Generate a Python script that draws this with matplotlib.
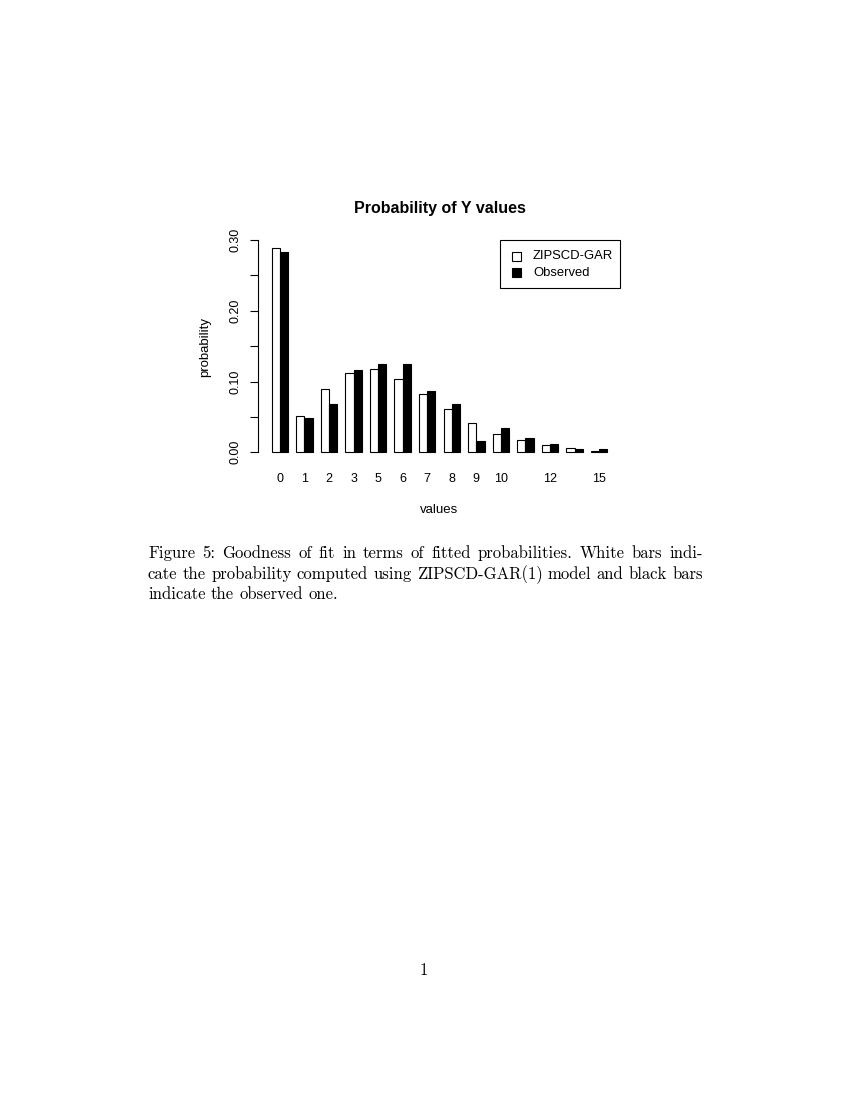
import matplotlib
matplotlib.use("Agg")
import matplotlib.pyplot as plt
import numpy as np
from matplotlib.patches import Rectangle

# ---------------- data ----------------
categories = ["0", "1", "2", "3", "5", "6", "7", "8", "9", "10", "11", "12", "13", "15"]
tick_labels = ["0", "1", "2", "3", "5", "6", "7", "8", "9", "10", "", "12", "", "15"]
zipscd_gar = [0.2885, 0.0514, 0.0892, 0.1118, 0.1175, 0.1038, 0.0825,
              0.0608, 0.0410, 0.0259, 0.0170, 0.0104, 0.0061, 0.0014]
observed = [0.2837, 0.0486, 0.0679, 0.1160, 0.1250, 0.1250, 0.0863,
            0.0679, 0.0156, 0.0349, 0.0203, 0.0118, 0.0047, 0.0047]
series_names = ["ZIPSCD-GAR", "Observed"]
y_ticks = [0.00, 0.05, 0.10, 0.15, 0.20, 0.25, 0.30]
title = "Probability of Y values"
x_label = "values"
y_label = "probability"
caption_lines = [
    "Figure 5: Goodness of fit in terms of fitted probabilities. White bars indi-",
    "cate the probability computed using ZIPSCD-GAR(1) model and black bars",
    "indicate the observed one.",
]
page_number = "1"

# ---------------- figure ----------------
plt.rcParams["font.family"] = ["Liberation Sans", "DejaVu Sans"]
W, H = 850, 1100
fig = plt.figure(figsize=(8.5, 11), dpi=100)


def fx(px):
    return px / W


def fy(py):
    return 1 - py / H


left, right, top, bottom = 258.3, 620.7, 240.0, 462.5
ax = fig.add_axes([fx(left), fy(bottom), (right - left) / W, (bottom - top) / H])

idx = np.arange(len(categories))
ax.bar(3 * idx + 1.5, zipscd_gar, width=1, color="white", edgecolor="black", linewidth=0.8)
ax.bar(3 * idx + 2.5, observed, width=1, color="black", edgecolor="black", linewidth=0.8)

ax.set_xlim(-0.64, 43.64)
ax.set_ylim(-0.0145, 0.3002)

for s in ["top", "right", "bottom"]:
    ax.spines[s].set_visible(False)
ax.spines["left"].set_bounds(0, 0.30)
ax.spines["left"].set_linewidth(0.8)

ax.set_yticks(y_ticks)
ax.set_yticklabels([f"{v:.2f}" if i % 2 == 0 else "" for i, v in enumerate(y_ticks)])
ax.tick_params(axis="y", length=6, width=0.8, pad=6, labelsize=9, labelrotation=90)
for lbl in ax.get_yticklabels():
    lbl.set_va("center")

ax.set_xticks(3 * idx + 2)
ax.set_xticklabels(tick_labels)
ax.tick_params(axis="x", length=0, pad=7.5, labelsize=9)

fig.text(fx(439.5), fy(208), title, ha="center", va="center", fontsize=11.5, fontweight="bold")
fig.text(fx(439.5), fy(510), x_label, ha="center", va="center", fontsize=9.5)
fig.text(fx(205.5), fy(347), y_label, ha="center", va="center", fontsize=9.5, rotation=90)

# legend (R style box)
fig.add_artist(Rectangle((fx(500), fy(288.5)), 120 / W, 48.5 / H, transform=fig.transFigure,
                         fill=False, edgecolor="black", linewidth=0.8))
for name, fc, yc in zip(series_names, ["white", "black"], [256, 272.5]):
    fig.add_artist(Rectangle((fx(512), fy(yc + 4.5)), 9 / W, 9 / H, transform=fig.transFigure,
                             facecolor=fc, edgecolor="black", linewidth=0.8))
    fig.text(fx(533), fy(yc), name, ha="left", va="center", fontsize=9.4)

# caption (justified, LaTeX-like)
renderer = fig.canvas.get_renderer()
cap_left, cap_right = 148, 703
baselines = [558, 579, 599]
for li, (line, yb) in enumerate(zip(caption_lines, baselines)):
    words = line.split(" ")
    texts = [fig.text(0, fy(yb), w, ha="left", va="baseline", fontsize=12, family="cmr10")
             for w in words]
    widths = [t.get_window_extent(renderer).width for t in texts]
    if li < len(caption_lines) - 1:
        gap = (cap_right - cap_left - sum(widths)) / (len(words) - 1)
    else:
        gap = 0.333 * 12 * 100 / 72
    x = cap_left
    for t, wd in zip(texts, widths):
        t.set_x(fx(x))
        x += wd + gap

fig.text(fx(423.5), fy(975), page_number, ha="center", va="baseline", fontsize=12, family="cmr10")

fig.savefig("out.png", dpi=100)
